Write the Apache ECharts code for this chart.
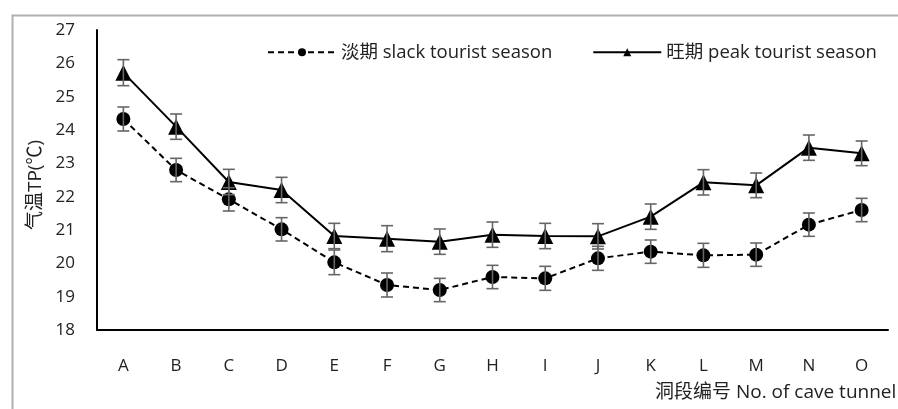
<!DOCTYPE html>
<html>
<head>
<meta charset="utf-8">
<script src="https://cdn.jsdelivr.net/npm/echarts@6/dist/echarts.min.js"></script>
<style>
  html, body { margin: 0; padding: 0; background: #fff; }
  #chart { width: 898px; height: 409px; }
</style>
</head>
<body>
<div id="chart"></div>
<script>
(function () {
    // 洞段编号
    var categories = ['A', 'B', 'C', 'D', 'E', 'F', 'G', 'H', 'I', 'J', 'K', 'L', 'M', 'N', 'O'];
    // 淡期 slack tourist season
    var slackValues = [24.33, 22.8, 21.92, 21.02, 20.03, 19.35, 19.2, 19.59, 19.55, 20.15, 20.35, 20.24, 20.26, 21.16, 21.6];
    var slackErr = [0.36, 0.35, 0.35, 0.35, 0.37, 0.36, 0.35, 0.35, 0.36, 0.36, 0.35, 0.36, 0.35, 0.35, 0.35];
    // 旺期 peak tourist season
    var peakValues = [25.72, 24.1, 22.44, 22.2, 20.82, 20.74, 20.65, 20.86, 20.82, 20.81, 21.4, 22.43, 22.34, 23.47, 23.3];
    var peakErr = [0.39, 0.38, 0.38, 0.38, 0.38, 0.39, 0.38, 0.38, 0.38, 0.38, 0.38, 0.38, 0.37, 0.38, 0.37];

    var font = '"Open Sans", "Noto Sans CJK SC", sans-serif';

    var chart = echarts.init(document.getElementById('chart'));

    // 误差线数据 [x, 下限, 上限]
    function errData(vals, errs) {
        return vals.map(function (v, i) { return [i, v - errs[i], v + errs[i]]; });
    }

    function renderErr(params, api) {
        var x = api.value(0);
        var lo = api.coord([x, api.value(1)]);
        var hi = api.coord([x, api.value(2)]);
        var half = 6;
        var style = { stroke: '#666', lineWidth: 1.6 };
        return {
            type: 'group',
            children: [
                { type: 'line', shape: { x1: lo[0], y1: lo[1], x2: hi[0], y2: hi[1] }, style: style },
                { type: 'line', shape: { x1: lo[0] - half, y1: lo[1], x2: lo[0] + half, y2: lo[1] }, style: style },
                { type: 'line', shape: { x1: hi[0] - half, y1: hi[1], x2: hi[0] + half, y2: hi[1] }, style: style }
            ]
        };
    }

    var option = {
        backgroundColor: '#fff',
        animation: false,
        textStyle: { fontFamily: font },
        graphic: [
            {
                type: 'rect',
                left: 10, top: 13,
                shape: { width: 920, height: 430 },
                style: { fill: 'none', stroke: '#b0b0b0', lineWidth: 2 },
                z: -10
            },
            {
                type: 'text',
                left: 655, top: 383,
                style: { text: '洞段编号 No. of cave tunnel', font: '19px ' + font, fill: '#222' }
            },
            {
                // 纵轴标题
                type: 'text',
                x: 36, y: 185,
                rotation: Math.PI / 2,
                style: {
                    text: '气温TP(℃)', font: '19px ' + font, fill: '#222',
                    align: 'center', verticalAlign: 'middle'
                }
            }
        ],
        legend: {
            top: 38,
            left: 262,
            itemWidth: 68,
            itemHeight: 10,
            itemGap: 40,
            textStyle: { fontSize: 18.5, color: '#222', fontFamily: font },
            data: ['淡期 slack tourist season', '旺期 peak tourist season']
        },
        grid: { left: 97, right: 10, top: 30, bottom: 79 },
        xAxis: {
            type: 'category',
            data: categories,
            axisLine: { lineStyle: { color: '#000', width: 2 } },
            axisTick: { show: false },
            axisLabel: { color: '#222', fontSize: 17, margin: 28 }
        },
        yAxis: {
            type: 'value',
            min: 18,
            max: 27,
            interval: 1,
            axisLine: { show: true, lineStyle: { color: '#000', width: 2 } },
            axisTick: { show: false },
            splitLine: { show: false },
            axisLabel: { color: '#222', fontSize: 17, margin: 22 }
        },
        series: [
            {
                name: '淡期 slack tourist season',
                type: 'line',
                data: slackValues,
                symbol: 'circle',
                symbolSize: 14,
                itemStyle: { color: '#000' },
                lineStyle: { color: '#000', width: 2, type: [6, 4] },
                z: 3
            },
            {
                name: '旺期 peak tourist season',
                type: 'line',
                data: peakValues,
                symbol: 'triangle',
                symbolSize: 16,
                itemStyle: { color: '#000' },
                lineStyle: { color: '#000', width: 2 },
                z: 3
            },
            {
                type: 'custom',
                data: errData(slackValues, slackErr),
                renderItem: renderErr,
                encode: { x: 0, y: [1, 2] },
                silent: true,
                z: 4
            },
            {
                type: 'custom',
                data: errData(peakValues, peakErr),
                renderItem: renderErr,
                encode: { x: 0, y: [1, 2] },
                silent: true,
                z: 4
            }
        ]
    };

    chart.setOption(option);
    window.addEventListener('resize', chart.resize);
})();
</script>
</body>
</html>
